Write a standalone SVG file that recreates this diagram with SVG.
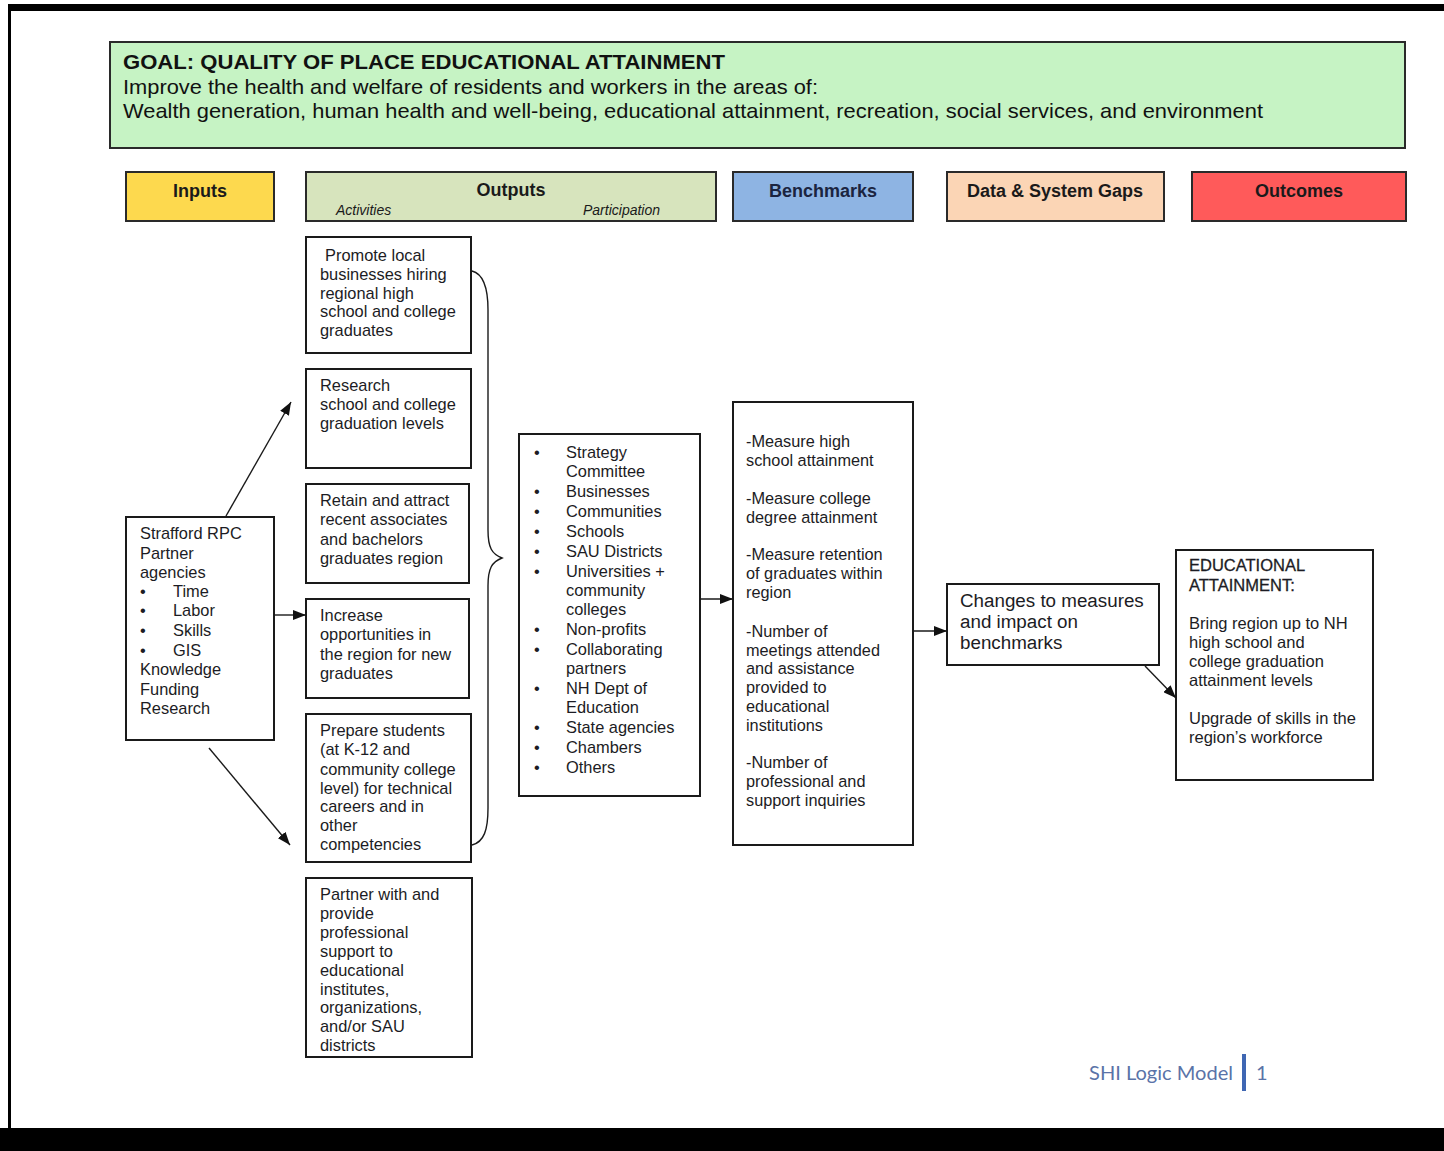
<svg xmlns="http://www.w3.org/2000/svg" width="1444" height="1151" viewBox="0 0 1444 1151">
  <style>
    .box { fill: #ffffff; stroke: #1a1a1a; stroke-width: 2; }
    .hdr { stroke: #2a2a2a; stroke-width: 2; }
    .t { font-family: "Liberation Sans", Arial, sans-serif; font-size: 16.4px; fill: #1c1c24; }
    .tb { font-family: "Liberation Sans", Arial, sans-serif; font-size: 16.3px; fill: #1c1c24; }
    .tg { font-family: "Liberation Sans", Arial, sans-serif; font-size: 18.8px; fill: #1c1c24; }
    .to { font-family: "Liberation Sans", Arial, sans-serif; font-size: 16.5px; fill: #1c1c24; }
    .cap { stroke: #1c1c24; stroke-width: 0.3; }
    .th { font-family: "Liberation Sans", Arial, sans-serif; font-size: 18px; font-weight: bold; fill: #1a1a1a; text-anchor: middle; }
    .ti { font-family: "Liberation Sans", Arial, sans-serif; font-size: 14px; font-style: italic; fill: #1a1a1a; }
    .goal { font-family: "Liberation Sans", Arial, sans-serif; font-size: 21px; fill: #111111; }
    .conn { stroke: #1a1a1a; stroke-width: 1.4; fill: none; }
  </style>
  <defs>
    <marker id="arrow" viewBox="0 0 13 10" refX="13" refY="5" markerWidth="13" markerHeight="10" markerUnits="userSpaceOnUse" orient="auto">
      <path d="M0,0 L13,5 L0,10 Z" fill="#111111"/>
    </marker>
  </defs>

  <!-- page frame -->
  <rect x="0" y="0" width="1444" height="1151" fill="#ffffff"/>
  <rect x="8" y="4" width="1436" height="7" fill="#000000"/>
  <rect x="8" y="4" width="3" height="1130" fill="#000000"/>
  <rect x="0" y="1128" width="1444" height="23" fill="#000000"/>

  <!-- goal banner -->
  <g id="goal">
    <rect x="110" y="42" width="1295" height="106" fill="#c6f3c4" stroke="#2a2a2a" stroke-width="2"/>
    <text class="goal" x="123" y="69" font-weight="bold" textLength="602" lengthAdjust="spacingAndGlyphs">GOAL: QUALITY OF PLACE EDUCATIONAL ATTAINMENT</text>
    <text class="goal" x="123" y="94" textLength="695" lengthAdjust="spacingAndGlyphs">Improve the health and welfare of residents and workers in the areas of:</text>
    <text class="goal" x="123" y="118" textLength="1140" lengthAdjust="spacingAndGlyphs">Wealth generation, human health and well-being, educational attainment, recreation, social services, and environment</text>
  </g>

  <!-- column headers -->
  <g id="hdr-inputs">
    <rect class="hdr" x="126" y="172" width="148" height="49" fill="#fdd94e"/>
    <text class="th" x="200" y="197">Inputs</text>
  </g>
  <g id="hdr-outputs">
    <rect class="hdr" x="306" y="172" width="410" height="49" fill="#d7e4bd"/>
    <text class="th" x="511" y="196">Outputs</text>
    <text class="ti" x="336" y="215">Activities</text>
    <text class="ti" x="583" y="215">Participation</text>
  </g>
  <g id="hdr-benchmarks">
    <rect class="hdr" x="733" y="172" width="180" height="49" fill="#8eb4e3"/>
    <text class="th" x="823" y="197" style="fill:#1b2440">Benchmarks</text>
  </g>
  <g id="hdr-gaps">
    <rect class="hdr" x="947" y="172" width="217" height="49" fill="#fbd5b5"/>
    <text class="th" x="1055" y="197">Data &amp; System Gaps</text>
  </g>
  <g id="hdr-outcomes">
    <rect class="hdr" x="1192" y="172" width="214" height="49" fill="#ff5a5a"/>
    <text class="th" x="1299" y="197">Outcomes</text>
  </g>

  <!-- inputs -->
  <g id="inputs">
    <rect class="box" x="126" y="517" width="148" height="223"/>
    <text class="t" x="140" y="539">Strafford RPC</text>
    <text class="t" x="140" y="559">Partner</text>
    <text class="t" x="140" y="578">agencies</text>
    <text class="t" x="140" y="597">•</text><text class="t" x="173" y="597">Time</text>
    <text class="t" x="140" y="616">•</text><text class="t" x="173" y="616">Labor</text>
    <text class="t" x="140" y="636">•</text><text class="t" x="173" y="636">Skills</text>
    <text class="t" x="140" y="656">•</text><text class="t" x="173" y="656">GIS</text>
    <text class="t" x="140" y="675">Knowledge</text>
    <text class="t" x="140" y="695">Funding</text>
    <text class="t" x="140" y="714">Research</text>
  </g>

  <!-- activities -->
  <g id="act-promote">
    <rect class="box" x="306" y="237" width="165" height="116"/>
    <text class="t" x="325" y="261">Promote local</text>
    <text class="t" x="320" y="280">businesses hiring</text>
    <text class="t" x="320" y="299">regional high</text>
    <text class="t" x="320" y="317">school and college</text>
    <text class="t" x="320" y="336">graduates</text>
  </g>
  <g id="act-research">
    <rect class="box" x="306" y="369" width="165" height="99"/>
    <text class="t" x="320" y="391">Research</text>
    <text class="t" x="320" y="410">school and college</text>
    <text class="t" x="320" y="429">graduation levels</text>
  </g>
  <g id="act-retain">
    <rect class="box" x="306" y="484" width="163" height="99"/>
    <text class="t" x="320" y="506">Retain and attract</text>
    <text class="t" x="320" y="525">recent associates</text>
    <text class="t" x="320" y="545">and bachelors</text>
    <text class="t" x="320" y="564">graduates region</text>
  </g>
  <g id="act-increase">
    <rect class="box" x="306" y="599" width="163" height="99"/>
    <text class="t" x="320" y="621">Increase</text>
    <text class="t" x="320" y="640">opportunities in</text>
    <text class="t" x="320" y="660">the region for new</text>
    <text class="t" x="320" y="679">graduates</text>
  </g>
  <g id="act-prepare">
    <rect class="box" x="306" y="714" width="165" height="148"/>
    <text class="t" x="320" y="736">Prepare students</text>
    <text class="t" x="320" y="755">(at K-12 and</text>
    <text class="t" x="320" y="775">community college</text>
    <text class="t" x="320" y="794">level) for technical</text>
    <text class="t" x="320" y="812">careers and in</text>
    <text class="t" x="320" y="831">other</text>
    <text class="t" x="320" y="850">competencies</text>
  </g>
  <g id="act-partner">
    <rect class="box" x="306" y="878" width="166" height="179"/>
    <text class="t" x="320" y="900">Partner with and</text>
    <text class="t" x="320" y="919">provide</text>
    <text class="t" x="320" y="938">professional</text>
    <text class="t" x="320" y="957">support to</text>
    <text class="t" x="320" y="976">educational</text>
    <text class="t" x="320" y="995">institutes,</text>
    <text class="t" x="320" y="1013">organizations,</text>
    <text class="t" x="320" y="1032">and/or SAU</text>
    <text class="t" x="320" y="1051">districts</text>
  </g>

  <!-- participation -->
  <g id="participation">
    <rect class="box" x="519" y="434" width="181" height="362"/>
    <text class="t" x="534" y="458">•</text><text class="t" x="566" y="458">Strategy</text>
    <text class="t" x="566" y="477">Committee</text>
    <text class="t" x="534" y="497">•</text><text class="t" x="566" y="497">Businesses</text>
    <text class="t" x="534" y="517">•</text><text class="t" x="566" y="517">Communities</text>
    <text class="t" x="534" y="537">•</text><text class="t" x="566" y="537">Schools</text>
    <text class="t" x="534" y="557">•</text><text class="t" x="566" y="557">SAU Districts</text>
    <text class="t" x="534" y="577">•</text><text class="t" x="566" y="577">Universities +</text>
    <text class="t" x="566" y="596">community</text>
    <text class="t" x="566" y="615">colleges</text>
    <text class="t" x="534" y="635">•</text><text class="t" x="566" y="635">Non-profits</text>
    <text class="t" x="534" y="655">•</text><text class="t" x="566" y="655">Collaborating</text>
    <text class="t" x="566" y="674">partners</text>
    <text class="t" x="534" y="694">•</text><text class="t" x="566" y="694">NH Dept of</text>
    <text class="t" x="566" y="713">Education</text>
    <text class="t" x="534" y="733">•</text><text class="t" x="566" y="733">State agencies</text>
    <text class="t" x="534" y="753">•</text><text class="t" x="566" y="753">Chambers</text>
    <text class="t" x="534" y="773">•</text><text class="t" x="566" y="773">Others</text>
  </g>

  <!-- benchmarks -->
  <g id="benchmarks">
    <rect class="box" x="733" y="402" width="180" height="443"/>
    <text class="tb" x="746" y="447">-Measure high</text>
    <text class="tb" x="746" y="466">school attainment</text>
    <text class="tb" x="746" y="504">-Measure college</text>
    <text class="tb" x="746" y="523">degree attainment</text>
    <text class="tb" x="746" y="560">-Measure retention</text>
    <text class="tb" x="746" y="579">of graduates within</text>
    <text class="tb" x="746" y="598">region</text>
    <text class="tb" x="746" y="637">-Number of</text>
    <text class="tb" x="746" y="656">meetings attended</text>
    <text class="tb" x="746" y="674">and assistance</text>
    <text class="tb" x="746" y="693">provided to</text>
    <text class="tb" x="746" y="712">educational</text>
    <text class="tb" x="746" y="731">institutions</text>
    <text class="tb" x="746" y="768">-Number of</text>
    <text class="tb" x="746" y="787">professional and</text>
    <text class="tb" x="746" y="806">support inquiries</text>
  </g>

  <!-- data and system gaps -->
  <g id="gaps">
    <rect class="box" x="947" y="584" width="212" height="81"/>
    <text class="tg" x="960" y="607">Changes to measures</text>
    <text class="tg" x="960" y="628">and impact on</text>
    <text class="tg" x="960" y="649">benchmarks</text>
  </g>

  <!-- outcomes -->
  <g id="outcomes">
    <rect class="box" x="1176" y="550" width="197" height="230"/>
    <text class="to cap" x="1189" y="571">EDUCATIONAL</text>
    <text class="to cap" x="1189" y="591">ATTAINMENT:</text>
    <text class="to" x="1189" y="629">Bring region up to NH</text>
    <text class="to" x="1189" y="648">high school and</text>
    <text class="to" x="1189" y="667">college graduation</text>
    <text class="to" x="1189" y="686">attainment levels</text>
    <text class="to" x="1189" y="724">Upgrade of skills in the</text>
    <text class="to" x="1189" y="743">region’s workforce</text>
  </g>

  <!-- connectors -->
  <g id="connectors">
    <line class="conn" x1="226" y1="516" x2="291" y2="402" marker-end="url(#arrow)"/>
    <line class="conn" x1="274" y1="615" x2="306" y2="615" marker-end="url(#arrow)"/>
    <line class="conn" x1="209" y1="748" x2="290" y2="845" marker-end="url(#arrow)"/>
    <path class="conn" d="M472,271 C484,274 488,290 488,310 L488,530 C488,548 492,554 502,558 C492,562 488,568 488,586 L488,808 C488,830 484,842 472,845"/>
    <line class="conn" x1="700" y1="599" x2="733" y2="599" marker-end="url(#arrow)"/>
    <line class="conn" x1="913" y1="631" x2="947" y2="631" marker-end="url(#arrow)"/>
    <line class="conn" x1="1145" y1="666" x2="1176" y2="698" marker-end="url(#arrow)"/>
  </g>

  <!-- footer -->
  <g id="footer">
    <text x="1089" y="1080" font-family="Lato, 'Open Sans', sans-serif" font-size="20" fill="#5a73a8" textLength="144" lengthAdjust="spacingAndGlyphs">SHI Logic Model</text>
    <rect x="1242" y="1054" width="4" height="37" fill="#3f67b3"/>
    <text x="1256" y="1080" font-family="Lato, 'Open Sans', sans-serif" font-size="20" fill="#5a73a8">1</text>
  </g>
</svg>
